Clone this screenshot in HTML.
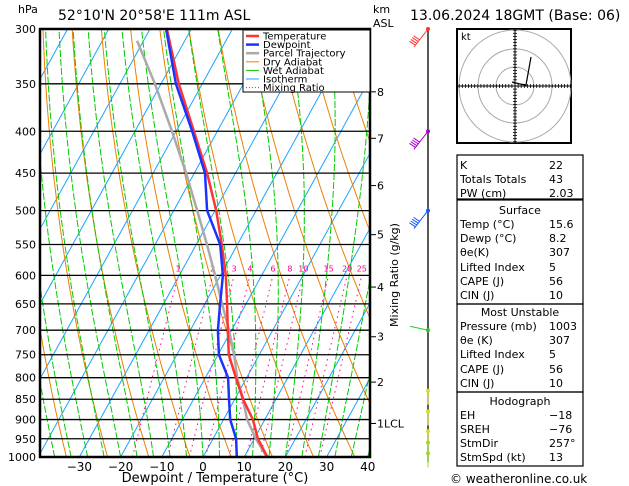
<!DOCTYPE html>
<html><head><meta charset="utf-8"><style>
body{margin:0;background:#fff;}
svg{display:block;font-family:"DejaVu Sans","Liberation Sans",sans-serif;}
</style></head><body>
<svg id="chart" width="629" height="486" viewBox="0 0 629 486" xmlns="http://www.w3.org/2000/svg">
<defs><clipPath id="plotclip"><rect x="40" y="29" width="330" height="428"/></clipPath></defs>
<rect width="629" height="486" fill="#fff"/>
<g id="grid" clip-path="url(#plotclip)"></g>
<g id="profiles" clip-path="url(#plotclip)"></g>
<g id="axes"></g>
<text x="18" y="13" font-size="11">hPa</text>
<text x="58" y="20" font-size="14">52°10'N  20°58'E  111m  ASL</text>
<text x="373" y="13" font-size="11">km</text>
<text x="373" y="27" font-size="11">ASL</text>
<text x="410" y="20" font-size="14">13.06.2024  18GMT  (Base: 06)</text>
<text x="215" y="482" font-size="13" text-anchor="middle">Dewpoint / Temperature (°C)</text>
<text transform="translate(398,275) rotate(-90)" font-size="11" text-anchor="middle">Mixing Ratio (g/kg)</text>
<g id="legend">
<rect x="243" y="30" width="127" height="62" fill="#fff" stroke="#000" stroke-width="1"/>
</g>
<g id="barbs"></g>
<g id="hodo"></g>
<g id="tables"></g>
<text x="450" y="483" font-size="12">© weatheronline.co.uk</text>
</svg>
<script>
const pressures=[1000,950,900,850,800,750,700,650,600,550,500,450,400,350,300];
const tempValues=[15.6,10.9,7.1,2.0,-2.6,-7.4,-10.9,-14.6,-18.7,-23.8,-29.7,-36.9,-45.7,-55.7,-65.9];
const dewValues=[8.2,5.6,1.6,-1.4,-4.5,-9.8,-13.3,-16.3,-19.4,-24.2,-31.9,-37.4,-46.1,-56.4,-66.1];
const parcelPressures=[1000,950,900,850,800,750,700,650,600,550,500,450,400,350,310];
const parcelValues=[15.5,10.4,5.7,2.0,-2.3,-6.1,-10.6,-15.8,-21.3,-27.4,-34.3,-42.0,-51.0,-61.5,-71.6];
const isobarTicks=[300,350,400,450,500,550,600,650,700,750,800,850,900,950,1000];
const tempTicks=[-30,-20,-10,0,10,20,30,40];
const kmTicks=["8","7","6","5","4","3","2","1LCL"];
const kmPressures=[358,408,466,535,620,713,810,910];
const mixRatios=[1,2,3,4,6,8,10,15,20,25];

const NS="http://www.w3.org/2000/svg";
const X0=203,XS=4.12,SK=0.55,Y0=457,YH=428,LN=Math.log(1000/300);
function yP(p){return Y0-YH*Math.log(1000/p)/LN;}
function xT(T,p){return X0+XS*T+SK*(Y0-yP(p));}
function mk(tag,attrs,parent){const e=document.createElementNS(NS,tag);for(const k in attrs)e.setAttribute(k,attrs[k]);parent.appendChild(e);return e;}
function pathFrom(pts){return pts.map((q,i)=>(i?'L':'M')+q[0].toFixed(1)+' '+q[1].toFixed(1)).join(' ');}
const grid=document.getElementById('grid');
for(let T=-160;T<=50;T+=10){
  const e=mk('line',{x1:xT(T,1000),y1:yP(1000),x2:xT(T,300),y2:yP(300),stroke:'#1aa3ff','stroke-width':1},grid);
  
  
}
for(let th=230;th<=480;th+=10){
  const pts=[];for(let p=1000;p>=300;p-=10){pts.push([xT(th*Math.pow(p/1000,0.286)-273.15,p),yP(p)]);}
  const e=mk('path',{d:pathFrom(pts),fill:'none',stroke:'#ee7f00','stroke-width':1},grid);
  
  
}
function es(T){return 6.112*Math.exp(17.67*T/(T+243.5));}
function moistLapse(T,p){const Tk=T+273.15;const e=es(T);const rs=0.622*e/(p-e);const Lv=2.5e6,Rd=287,cp=1004,eps=0.622;
  return (Rd*Tk+Lv*rs)/(cp+Lv*Lv*rs*eps/(Rd*Tk*Tk))/p;}
for(let T0=-40;T0<=40;T0+=4){
  let T=T0;const pts=[[xT(T,1000),yP(1000)]];
  for(let p=1000;p>300;p-=5){T-=moistLapse(T,p)*5;pts.push([xT(T,p-5),yP(p-5)]);}
  const e=mk('path',{d:pathFrom(pts),fill:'none',stroke:'#00cc00','stroke-width':1,'stroke-dasharray':'7 2'},grid);
  
  
}
function tdW(w,p){const e=w*p/(622+w);const l=Math.log(e/6.112);return 243.5*l/(17.67-l);}
function xMix(w,p){
  const xb=X0+XS*tdW(w,1000);
  const xt=276.7+4.28*tdW(w,600);
  const f=Math.log(1000/p)/Math.log(1000/600);
  return xb+(xt-xb)*f;
}
mixRatios.forEach(w=>{
  const pts=[];for(let p=1000;p>=600;p-=10)pts.push([xMix(w,p),yP(p)]);
  const e=mk('path',{d:pathFrom(pts),fill:'none',stroke:'#ff0090','stroke-width':1,'stroke-dasharray':'1.5 4'},grid);
  
  
  const t=mk('text',{x:xMix(w,600),y:yP(600)-4,'font-size':8,fill:'#ff0090','text-anchor':'middle'},grid);
  t.textContent=w;
  
  
});
isobarTicks.forEach(p=>{
  const e=mk('line',{x1:40,x2:370,y1:yP(p),y2:yP(p),stroke:'#000','stroke-width':1.3},grid);
  
  
});
const prof=document.getElementById('profiles');
function line(ps,vals,color,w,name){
  const e=mk('path',{d:pathFrom(ps.map((p,i)=>[xT(vals[i],p),yP(p)])),fill:'none',stroke:color,'stroke-width':w,'stroke-linejoin':'round'},prof);
  
  
}
line(parcelPressures,parcelValues,'#aaaaaa',2.5,'parcel-trajectory-line');
line(pressures,tempValues,'#ff3333',2.5,'temperature-line');
line(pressures,dewValues,'#1a33ff',2.5,'dewpoint-line');
const ax=document.getElementById('axes');
mk('rect',{x:40,y:29,width:330,height:428,fill:'none',stroke:'#000','stroke-width':2.5},ax);
isobarTicks.forEach(p=>{
  const t=mk('text',{x:36,y:yP(p)+4,'font-size':11,'text-anchor':'end'},ax);
  t.textContent=p;
  
  
});
tempTicks.forEach(T=>{
  const t=mk('text',{x:X0+XS*T,y:471,'font-size':12,'text-anchor':'middle'},ax);
  t.textContent=T<0?'\u2212'+(-T):T;
  
  
});
kmTicks.forEach((k,i)=>{
  const y=yP(kmPressures[i]);
  mk('line',{x1:370,x2:376,y1:y,y2:y,stroke:'#000','stroke-width':1},ax);
  const t=mk('text',{x:377,y:y+4,'font-size':11},ax);
  t.textContent=k;
  
  
});
const lg=document.getElementById('legend');
const legNames=["Temperature","Dewpoint","Parcel Trajectory","Dry Adiabat","Wet Adiabat","Isotherm","Mixing Ratio"];
const legColors=['#ff3333','#1a33ff','#aaaaaa','#ee7f00','#00cc00','#1aa3ff','#ff0090'];
const legW=[2.5,2.5,2.5,1,1,1,1];
legNames.forEach((n,i)=>{
  const y=36+i*8.6;
  mk('line',{x1:246,x2:259,y1:y,y2:y,stroke:legColors[i],'stroke-width':legW[i],'stroke-dasharray':i==6?'1 2':'none'},lg);
  const t=mk('text',{x:263,y:y+3.5,'font-size':10},lg);
  t.textContent=n;
  
  
});
const bb=document.getElementById('barbs');
mk('line',{x1:428,x2:428,y1:29,y2:462,stroke:'#000','stroke-width':1.3},bb);
const barbP=[300,400,500,700,830,880,930,960,990];
const barbC=['#ff3333','#aa00cc','#1a55ff','#22cc22','#dddd22','#dddd22','#dddd22','#99dd22','#99dd22'];
barbP.forEach((p,i)=>{
  const y=yP(p);
  mk('circle',{cx:428,cy:y,r:2,fill:barbC[i]},bb);
  let dx=-14,dy=18;
  if(i==3){dx=-18;dy=-4;} else if(i>=4){dx=0;dy=14;}
  mk('line',{x1:428,y1:y,x2:428+dx,y2:y+dy,stroke:barbC[i],'stroke-width':1},bb);
  if(i<3){for(let k=0;k<4;k++){const bx=428+dx*(0.6+0.1*k),by=y+dy*(0.6+0.1*k);mk('line',{x1:bx,y1:by,x2:bx-6,y2:by-4,stroke:barbC[i],'stroke-width':1},bb);}}
});
const hd=document.getElementById('hodo');
mk('rect',{x:457,y:29,width:114,height:114,fill:'#fff',stroke:'#000','stroke-width':2},hd);
[19,37,56].forEach(r=>mk('circle',{cx:515,cy:86,r:r,fill:'none',stroke:'#aaa','stroke-width':1},hd));
mk('line',{x1:457,x2:571,y1:86,y2:86,stroke:'#000','stroke-width':1},hd);
mk('line',{x1:515,x2:515,y1:29,y2:143,stroke:'#000','stroke-width':1},hd);
for(let k=-18;k<=18;k++){mk('line',{x1:515+k*3.1,x2:515+k*3.1,y1:84,y2:88,stroke:'#000','stroke-width':0.8},hd);mk('line',{x1:513,x2:517,y1:86+k*3.1,y2:86+k*3.1,stroke:'#000','stroke-width':0.8},hd);}
mk('path',{d:'M512 82 L520 84 L526 85 L531 57',fill:'none',stroke:'#000','stroke-width':1.2},hd);
mk('text',{x:461,y:40,'font-size':10},hd).textContent='kt';
const tb=document.getElementById('tables');
const boxes=[[155,199],[200,304],[304,392],[392,466]];
boxes.forEach(b=>mk('rect',{x:457,y:b[0],width:126,height:b[1]-b[0],fill:'none',stroke:'#000','stroke-width':1.2},tb));
const rows=[["K","22",169],["Totals Totals","43",183],["PW (cm)","2.03",197],["Surface","",214,1],["Temp (°C)","15.6",228],["Dewp (°C)","8.2",242],["θe(K)","307",256],["Lifted Index","5",271],["CAPE (J)","56",285],["CIN (J)","10",299],["Most Unstable","",316,1],["Pressure (mb)","1003",330],["θe (K)","307",344],["Lifted Index","5",358],["CAPE (J)","56",373],["CIN (J)","10",387],["Hodograph","",405,1],["EH","\u221218",419],["SREH","\u221276",433],["StmDir","257°",447],["StmSpd (kt)","13",461]];
rows.forEach(r=>{
  const t=mk('text',{x:r[3]?520:460,y:r[2],'font-size':11,'text-anchor':r[3]?'middle':'start'},tb);
  t.textContent=r[0];
  
  
  if(r[1]){const v=mk('text',{x:549,y:r[2],'font-size':11},tb);v.textContent=r[1];
  
  }
});
</script>
</body></html>
